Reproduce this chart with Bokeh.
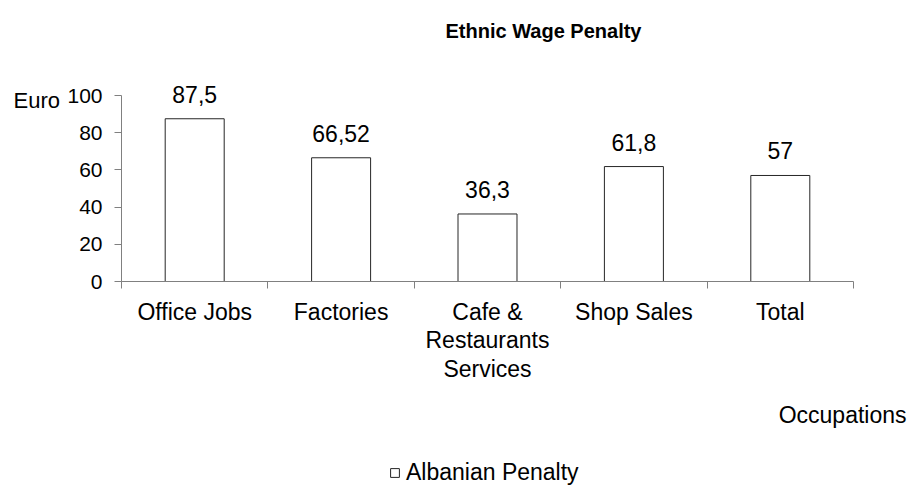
from bokeh.plotting import figure
from bokeh.models import (ColumnDataSource, Range1d, FixedTicker, LabelSet, Label,
                          Legend, LegendItem)
from bokeh.core.properties import value
from bokeh.embed import file_html
from bokeh.resources import INLINE

# ---- data ----
chart_title = "Ethnic Wage Penalty"
categories = ["Office Jobs", "Factories", "Cafe &\nRestaurants\nServices", "Shop Sales", "Total"]
values = [87.5, 66.52, 36.3, 61.8, 57]
y_ticks = [0, 20, 40, 60, 80, 100]
series_name = "Albanian Penalty"
y_unit = "Euro"
x_title = "Occupations"

positions = list(range(1, len(categories) + 1))
value_labels = [f"{v:g}".replace(".", ",") for v in values]

# ---- layout (pixels) ----
W, H = 913, 488
PX_LEFT, PX_RIGHT = 121, 853      # x pixel of first / last category boundary
PX_ZERO, PX_TOP = 281, 95         # y pixel of 0 and of 100
x0, x1 = positions[0] - 0.5, positions[-1] + 0.5
y0, y1 = y_ticks[0], y_ticks[-1]
sx = (PX_RIGHT - PX_LEFT) / (x1 - x0)
sy = (PX_ZERO - PX_TOP) / (y1 - y0)

FONT = "Liberation Sans"
AXIS_COLOR = "#808080"
BAR_LINE = "#262626"

src = ColumnDataSource(dict(x=positions, top=values, lab=value_labels))

p = figure(width=W, height=H,
           x_range=Range1d(x0 - PX_LEFT / sx, x1 + (W - PX_RIGHT) / sx),
           y_range=Range1d(y0 - (H - PX_ZERO) / sy, y1 + PX_TOP / sy),
           output_backend="svg", toolbar_location=None,
           min_border_left=0, min_border_right=0,
           min_border_top=0, min_border_bottom=0)
p.xgrid.visible = False
p.ygrid.visible = False
p.outline_line_color = None
p.background_fill_color = "white"
p.border_fill_color = "white"

bars = p.vbar(x="x", top="top", bottom=0, width=0.403, source=src,
              fill_color="white", line_color=BAR_LINE, line_width=1)

# value labels
p.add_layout(LabelSet(x="x", y="top", text="lab", source=src,
                      text_align="center", text_baseline="alphabetic",
                      y_offset=16, text_font=value(FONT), text_font_size=value("23px"),
                      text_color=value("black")))

# x axis
xa = p.xaxis[0]
xa.fixed_location = y0
xa.bounds = (x0, x1)
xa.ticker = FixedTicker(ticks=positions,
                        minor_ticks=[x - 0.5 for x in positions] + [positions[-1] + 0.5])
xa.major_label_overrides = {x: c for x, c in zip(positions, categories)}
xa.major_tick_out = 0
xa.major_tick_in = 0
xa.minor_tick_out = 7
xa.minor_tick_in = 0
xa.axis_line_color = AXIS_COLOR
xa.minor_tick_line_color = AXIS_COLOR
xa.major_label_text_font = FONT
xa.major_label_text_font_size = "23px"
xa.major_label_text_color = "black"
xa.major_label_text_line_height = 1.1
xa.major_label_standoff = 10

# y axis
ya = p.yaxis[0]
ya.fixed_location = x0
ya.bounds = (y0, y1)
ya.ticker = FixedTicker(ticks=y_ticks, minor_ticks=[])
ya.major_tick_out = 7
ya.major_tick_in = 0
ya.minor_tick_out = 0
ya.minor_tick_in = 0
ya.axis_line_color = AXIS_COLOR
ya.major_tick_line_color = AXIS_COLOR
ya.major_label_text_font = FONT
ya.major_label_text_font_size = "21px"
ya.major_label_text_color = "black"
ya.major_label_standoff = 12

# texts (screen units from bottom-left)
p.add_layout(Label(x=543, y=H - 30, x_units="screen", y_units="screen",
                   text=chart_title, text_font=FONT, text_font_size="20px",
                   text_font_style="bold", text_align="center",
                   text_baseline="alphabetic", text_color="black"))
p.add_layout(Label(x=13, y=H - 100, x_units="screen", y_units="screen",
                   text=y_unit, text_font=FONT, text_font_size="22px",
                   text_align="left", text_baseline="alphabetic", text_color="black"))
p.add_layout(Label(x=906, y=H - 414, x_units="screen", y_units="screen",
                   text=x_title, text_font=FONT, text_font_size="23px",
                   text_align="right", text_baseline="alphabetic", text_color="black"))

legend = Legend(items=[LegendItem(label=series_name, renderers=[bars])],
                location=(389, 2), orientation="horizontal",
                border_line_color=None, background_fill_alpha=0,
                padding=0, margin=0, spacing=0,
                glyph_width=11, glyph_height=11, label_standoff=6,
                label_text_font=FONT, label_text_font_size="23px",
                label_text_color="black")
p.add_layout(legend)

with open("out.html", "w") as f:
    f.write(file_html(p, INLINE))
